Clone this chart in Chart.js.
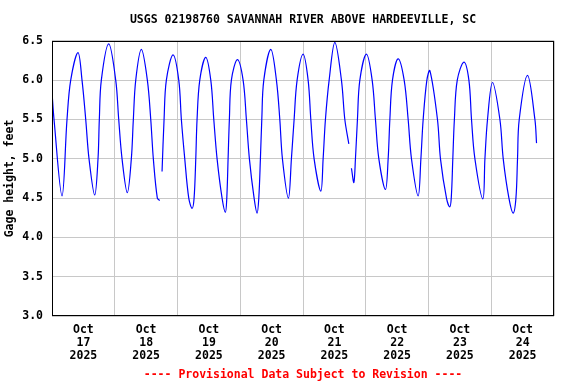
<!DOCTYPE html>
<html>
<head>
<meta charset="utf-8">
<script src="https://cdn.jsdelivr.net/npm/chart.js@4"></script>
<style>
  body { margin: 0; background: #fff; }
  #wrap { width: 576px; height: 384px; }
</style>
</head>
<body>
<div id="wrap"><canvas id="chart"></canvas></div>
<script>
// hours since Oct 17 2025 00:00 (null = gap in record)
const hours = [
  0.0, 0.77, 3.83, 5.74, 7.16, 9.95, 11.48, 12.90, 14.16, 16.34, 17.60, 18.10, 18.87, 21.70,
  24.37, 25.52, 26.79, 28.81, 30.34, 31.11, 32.03, 34.17, 36.47, 37.77, 38.76, 40.29, 41.21,
  41.65,
  42.09, 42.86, 43.74, 46.30, 48.48, 49.48, 50.78, 52.31, 53.57, 54.34, 54.99, 55.48, 56.52,
  58.81, 60.73, 61.88, 63.14, 65.05, 66.31, 66.85, 67.35, 67.84, 68.61, 70.91, 73.09, 74.35,
  75.50, 77.30, 78.44, 79.09, 79.71, 80.24, 81.01, 83.69, 85.83, 87.13, 88.13, 90.42, 91.57,
  92.60, 93.75, 96.05, 97.96, 98.99, 100.25, 102.82, 103.70, 104.58, 106.00, 108.18, 110.70,
  112.00, 113.53,
  114.0,
  114.53, 115.45, 116.06, 116.82, 117.74, 120.27, 122.45, 123.71, 125.01, 127.54, 128.57,
  129.22, 130.22, 132.40, 134.69, 136.22, 137.49, 140.05, 141.09, 141.96, 143.38, 144.53,
  147.43, 148.58, 150.88, 152.11, 152.70, 153.30, 153.90, 155.00, 157.56, 159.45, 160.45,
  161.75, 164.81, 165.58, 166.57, 168.48, 171.31, 172.58, 174.76, 176.40, 177.44, 178.05,
  178.70, 181.87, 184.70, 185.32
];
const gage = [
  5.85, 5.5, 4.53, 5.5, 6.0, 6.35, 6.0, 5.5, 5.0, 4.54, 5.0, 5.5, 6.0, 6.46,
  6.0, 5.5, 5.0, 4.57, 5.0, 5.5, 6.0, 6.39, 6.0, 5.5, 5.0, 4.5, 4.47,
  null,
  4.84, 5.5, 6.0, 6.32, 6.0, 5.5, 5.0, 4.5, 4.37, 4.5, 5.0, 5.5, 6.0,
  6.29, 6.0, 5.5, 5.0, 4.5, 4.32, 4.5, 5.0, 5.5, 6.0, 6.26, 6.0, 5.5,
  5.0, 4.5, 4.31, 4.5, 5.0, 5.5, 6.0, 6.39, 6.0, 5.5, 5.0, 4.50, 5.0,
  5.5, 6.0, 6.33, 6.0, 5.5, 5.0, 4.59, 5.0, 5.5, 6.0, 6.48, 6.0,
  5.5, 5.19,
  null,
  4.88, 4.70, 5.0, 5.5, 6.0, 6.33, 6.0, 5.5, 5.0, 4.61, 5.0,
  5.5, 6.0, 6.27, 6.0, 5.5, 5.0, 4.53, 5.0, 5.5, 6.0, 6.12,
  5.5, 5.0, 4.5, 4.39, 4.5, 5.0, 5.5, 6.0, 6.23, 6.0, 5.5,
  5.0, 4.49, 5.0, 5.5, 5.97, 5.5, 5.0, 4.5, 4.31, 4.5, 5.0,
  5.5, 6.06, 5.5, 5.20
];

const midnightTicks = [0, 24, 48, 72, 96, 120, 144, 168, 192];
const noonTicks = [12, 36, 60, 84, 108, 132, 156, 180];
const dayLabels = [
  ['Oct', '17', '2025'], ['Oct', '18', '2025'], ['Oct', '19', '2025'], ['Oct', '20', '2025'],
  ['Oct', '21', '2025'], ['Oct', '22', '2025'], ['Oct', '23', '2025'], ['Oct', '24', '2025']
];
const yTicks = [3.0, 3.5, 4.0, 4.5, 5.0, 5.5, 6.0, 6.5];

const font = { family: '"DejaVu Sans Mono", monospace', size: 11.5, weight: 'bold' };

// black box round the plot area
const frame = {
  id: 'frame',
  afterDraw(chart) {
    const a = chart.chartArea, ctx = chart.ctx;
    ctx.save();
    ctx.strokeStyle = '#000';
    ctx.lineWidth = 1;
    ctx.strokeRect(Math.round(a.left) + 0.5, Math.round(a.top) + 0.5,
      Math.round(a.right - a.left) - 1, Math.round(a.bottom - a.top) - 1);
    ctx.restore();
  }
};

new Chart(document.getElementById('chart'), {
  type: 'line',
  data: {
    datasets: [{
      data: hours.map((h, i) => ({ x: h, y: gage[i] })),
      borderColor: '#0000ff',
      borderWidth: 1.2,
      pointRadius: 0,
      tension: 0.35,
      spanGaps: false,
      xAxisID: 'x'
    }]
  },
  options: {
    animation: false,
    responsive: true,
    maintainAspectRatio: false,
    devicePixelRatio: 1,
    layout: { padding: { left: 0, right: 22, top: 0, bottom: 0 } },
    plugins: {
      legend: { display: false },
      tooltip: { enabled: false },
      title: {
        display: true,
        text: 'USGS 02198760 SAVANNAH RIVER ABOVE HARDEEVILLE, SC',
        fullSize: false,
        color: '#000',
        font: font,
        padding: { top: 13, bottom: 14 }
      },
      subtitle: {
        display: true,
        position: 'bottom',
        text: '---- Provisional Data Subject to Revision ----',
        fullSize: false,
        color: '#ff0000',
        font: font,
        padding: { top: 2, bottom: 2 }
      }
    },
    scales: {
      x: {
        type: 'linear',
        min: 0, max: 192,
        afterBuildTicks: s => { s.ticks = midnightTicks.map(v => ({ value: v })); },
        afterFit: s => { s.height = 0; },
        ticks: { display: false },
        grid: { color: '#c8c8c8', drawTicks: false },
        border: { display: false }
      },
      days: {
        type: 'linear',
        position: 'bottom',
        min: 0, max: 192,
        afterBuildTicks: s => { s.ticks = noonTicks.map(v => ({ value: v })); },
        afterFit: s => { s.height = 50; },
        ticks: {
          autoSkip: false, maxRotation: 0, color: '#000', padding: 7,
          font: Object.assign({}, font, { lineHeight: 1.13 }),
          callback: (v, i) => dayLabels[i]
        },
        grid: { display: false, drawTicks: false },
        border: { display: false }
      },
      y: {
        min: 3, max: 6.5,
        afterBuildTicks: s => { s.ticks = yTicks.map(v => ({ value: v })); },
        afterFit: s => { s.width = 52; },
        ticks: { color: '#000', padding: 9, font: font, callback: v => v.toFixed(1) },
        grid: { color: '#c8c8c8', drawTicks: false },
        border: { display: false },
        title: {
          display: true,
          text: 'Gage height, feet',
          color: '#000',
          font: font,
          padding: { top: 3, bottom: 0 }
        }
      }
    }
  },
  plugins: [frame]
});
</script>
</body>
</html>
